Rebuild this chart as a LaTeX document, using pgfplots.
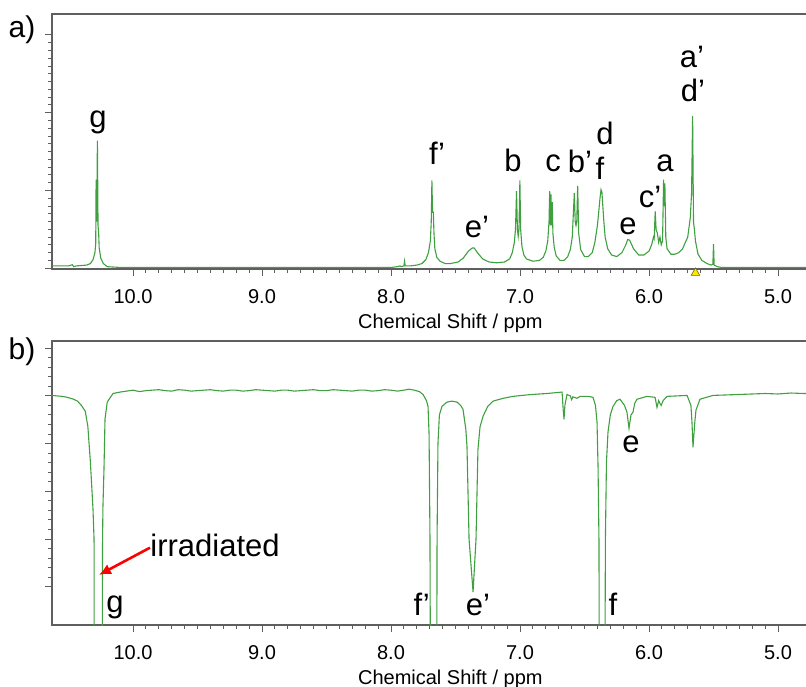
\documentclass[border=0pt]{standalone}
\usepackage{pgfplots}
\pgfplotsset{compat=1.18}
\usepackage{fontspec}
\setmainfont{Liberation Sans}
\usetikzlibrary{arrows.meta}
\definecolor{specgreen}{RGB}{62,160,62}
\definecolor{axgray}{RGB}{95,95,95}
\tikzset{lbl/.style={font=\fontsize{31}{36}\selectfont, anchor=base, inner sep=0pt}}
\pgfplotsset{
  nmrstyle/.style={
    scale only axis,
    width=778pt,
    x dir=reverse,
    xmin=4.597, xmax=10.628,
    xtick={5,6,7,8,9,10},
    minor x tick num=9,
    tick align=outside,
    tick pos=left,
    major tick length=7pt,
    minor tick length=4pt,
    axis line style={axgray, line width=1.3pt},
    every tick/.style={axgray, line width=1pt},
    yticklabels={},
    xticklabel style={font=\fontsize{20}{24}\selectfont, yshift=-10pt},
    /pgf/number format/assume math mode=true,
    /pgf/number format/.cd, fixed, fixed zerofill, precision=1, /pgfplots/.cd,
    xlabel={Chemical Shift / ppm},
    every axis x label/.style={at={(axis description cs:0.512,0)}, anchor=center, yshift=-54pt, font=\fontsize{20}{24}\selectfont},
    clip mode=individual,
  },
}
\begin{document}
\begin{tikzpicture}[x=1pt,y=1pt]
\path[use as bounding box] (0,0) rectangle (806,686);
% ---------------- panel a ----------------
\begin{axis}[nmrstyle,
  at={(52pt,417pt)}, anchor=south west,
  height=255pt,
  ymin=-0.01, ymax=3.27,
  ytick={0,1,2,3},
  minor y tick num=9,
]
\addplot[specgreen, line width=1.1pt] coordinates {
(10.628,0.03)(10.50,0.03)(10.47,0.045)(10.46,0.02)(10.44,0.03)(10.40,0.035)
(10.36,0.04)(10.33,0.06)(10.31,0.11)(10.295,0.2)(10.289,0.32)(10.286,1.14)(10.281,0.6)
(10.276,1.64)(10.271,0.55)(10.266,0.44)(10.262,0.26)(10.25,0.13)(10.23,0.06)
(10.20,0.02)(10.10,0.01)(9.0,0.01)(8.0,0.01)(7.95,0.02)(7.93,0.03)(7.92,0.02)
(7.90,0.03)(7.895,0.09)(7.89,0.03)(7.85,0.03)(7.80,0.04)(7.76,0.06)(7.73,0.11)
(7.71,0.2)(7.695,0.35)(7.688,0.6)(7.683,1.13)(7.678,0.72)(7.672,0.72)(7.667,0.45)(7.66,0.25)
(7.645,0.14)(7.62,0.09)(7.58,0.06)(7.54,0.06)(7.48,0.08)(7.44,0.13)(7.40,0.22)(7.37,0.26)
(7.355,0.26)(7.33,0.2)(7.29,0.12)(7.24,0.08)(7.18,0.07)(7.12,0.08)(7.08,0.12)
(7.06,0.2)(7.045,0.32)(7.035,0.5)(7.027,0.99)(7.02,0.5)(7.014,0.41)(7.008,0.5)(7.001,1.13)
(6.995,0.5)(6.985,0.28)(6.97,0.17)(6.95,0.12)(6.90,0.09)(6.85,0.1)(6.82,0.14)(6.80,0.22)
(6.785,0.35)(6.775,0.6)(6.77,0.99)(6.765,0.55)(6.76,0.95)(6.755,0.55)(6.75,0.85)
(6.745,0.45)(6.735,0.27)(6.72,0.16)(6.69,0.1)(6.66,0.1)(6.63,0.15)(6.61,0.24)
(6.595,0.4)(6.579,0.97)(6.572,0.6)(6.566,0.55)(6.56,0.6)(6.553,1.06)(6.545,0.45)
(6.53,0.24)(6.50,0.15)(6.47,0.15)(6.44,0.2)(6.42,0.33)(6.40,0.55)(6.39,0.72)
(6.38,0.9)(6.372,1.01)(6.365,0.98)(6.36,0.85)(6.35,0.6)(6.34,0.4)(6.32,0.25)
(6.29,0.17)(6.25,0.15)(6.21,0.2)(6.18,0.3)(6.165,0.37)(6.15,0.36)(6.12,0.25)
(6.08,0.17)(6.04,0.17)(6.00,0.22)(5.98,0.3)(5.965,0.4)(5.96,0.38)(5.952,0.73)
(5.945,0.5)(5.935,0.45)(5.925,0.33)(5.915,0.4)(5.905,0.3)(5.895,0.35)(5.887,1.14)
(5.882,0.8)(5.877,1.09)(5.87,0.4)(5.86,0.25)(5.83,0.18)(5.80,0.18)(5.77,0.2)
(5.74,0.25)(5.70,0.4)(5.68,0.65)(5.67,0.97)(5.662,1.96)(5.655,0.59)(5.648,0.5)
(5.64,0.35)(5.62,0.18)(5.59,0.1)(5.55,0.06)(5.52,0.04)(5.505,0.05)(5.50,0.31)
(5.495,0.04)(5.47,0.02)(5.44,0.01)(4.597,0.01)
};
\addplot[only marks, mark=triangle*, mark size=5pt, mark options={fill=yellow!90!orange, draw=olive!70!black, line width=0.6pt}, clip=false] coordinates {(5.64,-0.06)};
\node[lbl] at (axis cs:10.271,1.81) {g};
\node[lbl] at (axis cs:7.643,1.33) {f’};
\node[lbl] at (axis cs:7.333,0.40) {e’};
\node[lbl] at (axis cs:7.054,1.24) {b};
\node[lbl] at (axis cs:6.744,1.24) {c};
\node[lbl] at (axis cs:6.535,1.23) {b’};
\node[lbl] at (axis cs:6.341,1.59) {d};
\node[lbl] at (axis cs:6.380,1.14) {f};
\node[lbl] at (axis cs:6.163,0.44) {e};
\node[lbl] at (axis cs:5.992,0.78) {c’};
\node[lbl] at (axis cs:5.876,1.24) {a};
\node[lbl] at (axis cs:5.667,2.58) {a’};
\node[lbl] at (axis cs:5.659,2.14) {d’};
\end{axis}
% ---------------- panel b ----------------
\begin{axis}[nmrstyle,
  at={(52pt,61pt)}, anchor=south west,
  height=284pt,
  ymin=-0.80, ymax=5.15,
  ytick={0,1,2,3,4,5},
  minor y tick num=4,
]
\addplot[specgreen, line width=1.1pt] coordinates {
(10.628,4.01)(10.55,3.99)(10.51,3.97)(10.46,3.93)(10.43,3.89)(10.40,3.8)(10.37,3.68)(10.35,3.36)
(10.33,2.6)(10.31,1.62)(10.302,1.0)(10.30,-3)
};
\addplot[specgreen, line width=1.1pt] coordinates {
(10.24,-3)(10.236,1.0)(10.233,1.68)(10.225,2.46)(10.217,3.51)(10.20,3.87)
(10.155,4.05)(10.10,4.08)(10.05,4.10)(10.0,4.12)(9.95,4.09)(9.9,4.11)(9.85,4.12)(9.8,4.13)(9.75,4.11)(9.7,4.10)(9.65,4.13)(9.6,4.12)
(9.55,4.10)(9.5,4.11)(9.45,4.12)(9.4,4.13)(9.35,4.11)(9.3,4.10)(9.25,4.12)(9.2,4.12)(9.15,4.10)(9.1,4.11)(9.05,4.13)(9.0,4.12)(8.95,4.11)(8.9,4.10)(8.85,4.12)(8.8,4.12)
(8.75,4.10)(8.7,4.11)(8.65,4.12)(8.6,4.13)(8.55,4.11)(8.5,4.11)(8.45,4.13)(8.4,4.12)(8.35,4.11)(8.3,4.10)(8.25,4.12)(8.2,4.12)(8.15,4.10)(8.1,4.11)(8.05,4.13)(8.0,4.12)
(7.95,4.10)(7.9,4.12)(7.86,4.14)(7.82,4.12)(7.78,4.09)(7.752,4.03)(7.725,3.9)(7.713,3.78)(7.705,3.2)(7.698,1.05)
(7.693,-3)
};
\addplot[specgreen, line width=1.1pt] coordinates {
(7.646,-3)(7.643,1.0)(7.636,3.0)(7.625,3.6)(7.605,3.78)(7.566,3.87)(7.53,3.89)(7.488,3.87)
(7.46,3.8)(7.442,3.72)(7.42,3.3)(7.411,2.94)(7.395,1.0)(7.364,-0.11)(7.341,1.0)(7.326,2.88)(7.31,3.35)(7.287,3.57)
(7.25,3.78)(7.209,3.89)(7.13,3.95)(7.054,3.99)(6.95,4.02)(6.85,4.04)(6.791,4.05)(6.674,4.08)
(6.665,3.7)(6.659,3.51)(6.652,3.8)(6.636,4.03)(6.61,4.0)(6.60,3.92)(6.59,3.98)
(6.558,3.95)(6.535,3.99)(6.47,3.99)(6.434,3.97)(6.415,3.8)(6.403,3.45)(6.395,2.5)(6.388,1.0)(6.384,-3)
};
\addplot[specgreen, line width=1.1pt] coordinates {
(6.343,-3)(6.338,1.0)(6.33,2.6)(6.318,3.24)(6.30,3.6)(6.279,3.78)(6.25,3.9)(6.225,3.93)(6.19,3.8)(6.171,3.66)
(6.155,3.32)(6.14,3.6)(6.124,3.66)(6.11,3.85)(6.093,3.93)(6.016,3.99)(5.953,3.97)(5.938,3.76)
(5.925,3.9)(5.915,3.84)(5.905,3.8)(5.891,3.9)(5.860,3.99)(5.78,4.0)(5.705,4.01)
(5.675,3.8)(5.667,3.45)(5.659,2.92)(5.645,3.45)(5.636,3.7)(5.605,3.93)(5.504,4.01)
(5.4,4.02)(5.3,4.03)(5.2,4.04)(5.1,4.05)(5.0,4.04)(4.9,4.06)(4.8,4.05)(4.597,4.06)
};
\node[lbl] at (axis cs:9.364,0.63) {irradiated};
\node[lbl] at (axis cs:10.14,-0.53) {g};
\node[lbl] at (axis cs:7.762,-0.61) {f’};
\node[lbl] at (axis cs:7.326,-0.61) {e’};
\node[lbl] at (axis cs:6.279,-0.61) {f};
\node[lbl] at (axis cs:6.14,2.82) {e};
\draw[red, line width=2.6pt, -{Latex[length=12pt,width=11pt]}] (axis cs:9.868,0.82) -- (axis cs:10.264,0.25);
\end{axis}
\node[font=\fontsize{30}{35}\selectfont] at (22,656) {a)};
\node[font=\fontsize{30}{35}\selectfont] at (22,334) {b)};
\end{tikzpicture}
\end{document}
